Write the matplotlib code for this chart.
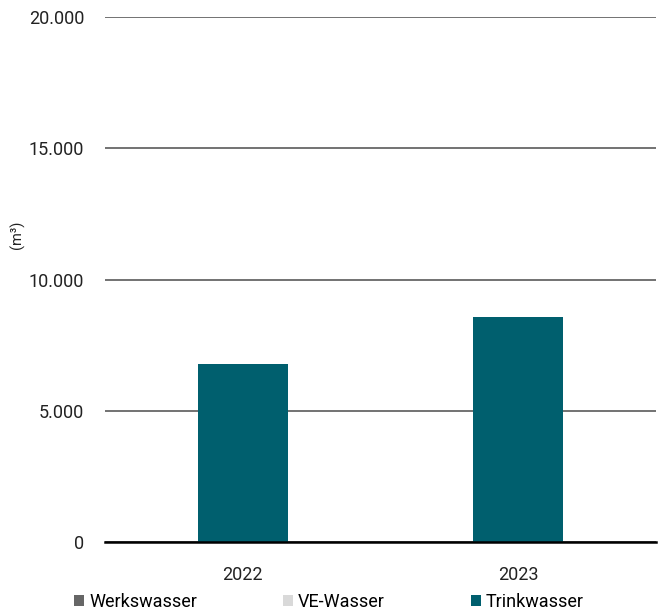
import matplotlib.pyplot as plt
import numpy as np

plt.rcParams['font.family'] = ['Roboto', 'DejaVu Sans']

# Daten (m³)
jahre = ['2022', '2023']
werkswasser = [0, 0]
ve_wasser = [0, 0]
trinkwasser = [6780, 8580]

farben = {'Werkswasser': '#666666', 'VE-Wasser': '#d9d9d9', 'Trinkwasser': '#005f6e'}

fig = plt.figure(figsize=(6.58, 6.10), dpi=100)
ax = fig.add_axes([0.1596, 0.1115, 0.8374, 0.8606])

x = np.arange(len(jahre))
breite = 0.327
unten = np.zeros(len(jahre))
for name, werte in [('Werkswasser', werkswasser), ('VE-Wasser', ve_wasser), ('Trinkwasser', trinkwasser)]:
    ax.bar(x, werte, breite, bottom=unten, color=farben[name], label=name, zorder=3)
    unten += np.array(werte)

ax.set_xlim(-0.5, 1.5)
ax.set_ylim(0, 20000)
ax.set_yticks([0, 5000, 10000, 15000, 20000])
ax.set_yticklabels(['0', '5.000', '10.000', '15.000', '20.000'])
ax.set_xticks(x)
ax.set_xticklabels(jahre)
ax.yaxis.grid(True, color='#5a5a5a', linewidth=1.2, zorder=0)
ax.tick_params(axis='both', length=0, labelsize=13, colors='#222222')
ax.tick_params(axis='y', pad=15)
ax.tick_params(axis='x', pad=17)
for s in ['top', 'right', 'left']:
    ax.spines[s].set_visible(False)
ax.spines['bottom'].set_color('black')
ax.spines['bottom'].set_linewidth(1.8)
ax.spines['bottom'].set_zorder(4)

fig.text(0.026, 0.615, '(m³)', rotation=90, ha='center', va='center', fontsize=10.5, color='#222222')

leg = fig.legend(loc='center left', bbox_to_anchor=(0.112, 0.013), ncol=3, frameon=False,
                 fontsize=13, handlelength=0.55, handleheight=0.55, handletextpad=0.3,
                 columnspacing=4.75, borderpad=0, borderaxespad=0)

fig.savefig('out.png', dpi=100)
